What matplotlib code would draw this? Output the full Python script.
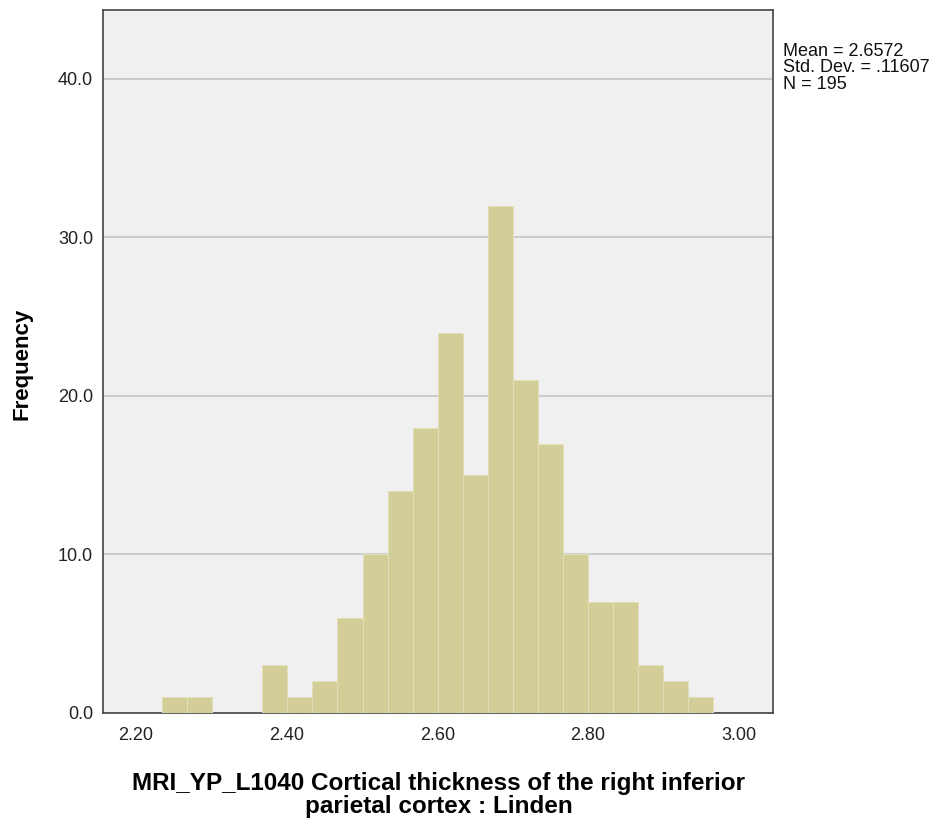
import matplotlib
matplotlib.use("Agg")
import matplotlib.pyplot as plt
import numpy as np

plt.rcParams['font.family'] = ['Liberation Sans', 'DejaVu Sans']

bin_start = 2.2349
bin_width = 0.03324
counts = [1, 1, 0, 0, 3, 1, 2, 6, 10, 14, 18, 24, 15, 32, 21, 17, 10, 7, 7, 3, 2, 1]
x_ticks = [2.20, 2.40, 2.60, 2.80, 3.00]
y_ticks = [0, 10, 20, 30, 40]
stats_text = "Mean = 2.6572\nStd. Dev. = .11607\nN = 195"
x_label = "MRI_YP_L1040 Cortical thickness of the right inferior\nparietal cortex : Linden"
y_label = "Frequency"

edges = bin_start + bin_width * np.arange(len(counts) + 1)

fig = plt.figure(figsize=(9.38, 8.23), dpi=100)
ax = fig.add_axes([0.1098, 0.1337, 0.7143, 0.8541])
ax.set_facecolor('#f0f0f0')

ax.bar(edges[:-1], counts, width=bin_width, align='edge', color='#d3ce97',
       edgecolor='#e2dfbb', linewidth=0.8, zorder=3)

ax.set_xlim(2.1566, 3.0452)
ax.set_ylim(0, 44.35)
ax.set_xticks(x_ticks)
ax.set_xticklabels([f"{v:.2f}" for v in x_ticks])
ax.set_yticks(y_ticks)
ax.set_yticklabels([f"{v:.1f}" for v in y_ticks])
ax.yaxis.grid(True, color='#c4c4c4', linewidth=1.2, zorder=1)
ax.set_axisbelow(True)
ax.tick_params(axis='both', labelsize=13, length=0, colors='#222222')
ax.tick_params(axis='x', pad=10)
ax.tick_params(axis='y', pad=7.2)
for s in ax.spines.values():
    s.set_color('#444444')
    s.set_linewidth(1.2)

fig.text(22 / 938, 1 - 364 / 823, y_label, fontsize=16, fontweight='bold',
         rotation=90, ha='center', va='center')
fig.text(438.5 / 938, 1 - 795 / 823, x_label, fontsize=17.5, fontweight='bold',
         ha='center', va='center', multialignment='center', linespacing=1.0)

fig.text(783 / 938, 1 - 43 / 823, stats_text, fontsize=13, va='top', ha='left',
         linespacing=0.95, color='#111111')

fig.savefig("out.png", dpi=100)
